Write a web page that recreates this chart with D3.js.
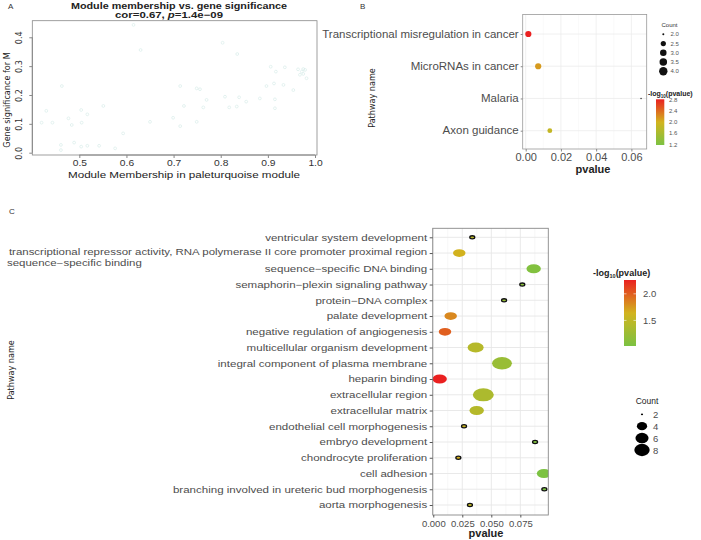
<!DOCTYPE html>
<html><head><meta charset="utf-8">
<script src="https://cdn.jsdelivr.net/npm/d3@7"></script>
<style>
html,body{margin:0;padding:0;background:#fff;}
text{font-family:"Liberation Sans",Arial,Helvetica,sans-serif;}
.narrow{font-family:"Liberation Sans Narrow","Arial Narrow","DejaVu Sans Condensed",sans-serif;font-stretch:condensed;}
</style></head>
<body>
<svg id="chart" width="701" height="540"></svg>
<script>
// ---------- Panel A data ----------
const mmValues = [0.615,0.630,0.804,0.835,0.463,0.430,0.420,0.443,0.477,0.484,0.504,0.505,0.517,0.551,
  0.461,0.461,0.489,0.504,0.517,0.542,0.576,0.593,0.650,0.714,0.722,0.699,0.714,0.749,0.749,0.756,
  0.763,0.770,0.809,0.818,0.834,0.839,0.854,0.883,0.897,0.906,0.913,0.917,0.915,0.915,0.936,0.933,
  0.954,0.964,0.972,0.975,0.979,0.982,0.968,0.975];
const gsValues = [0.443,0.356,0.381,0.342,0.231,0.145,0.104,0.104,0.119,0.096,0.148,0.104,0.133,0.162,
  0.027,0.009,0.035,0.021,0.024,0.024,0.015,0.067,0.107,0.231,0.162,0.121,0.092,0.107,0.223,0.220,
  0.157,0.183,0.194,0.157,0.160,0.192,0.177,0.188,0.231,0.298,0.240,0.281,0.185,0.154,0.296,0.235,
  0.217,0.289,0.281,0.273,0.287,0.258,0.270,0.290];
const aXTicks = [0.5,0.6,0.7,0.8,0.9,1.0];
const aYTicks = [0.0,0.1,0.2,0.3,0.4];

// ---------- Panel B data ----------
const bPathways = ["Transcriptional misregulation in cancer","MicroRNAs in cancer","Malaria","Axon guidance"];
const bPvalues = [0.0015,0.0071,0.0655,0.0137];
const bCounts = [4,4,2,3];
const bXTicks = [0,0.02,0.04,0.06];
const bColorTicks = [2.8,2.4,2.0,1.6,1.2];
const bCountTicks = [2.0,2.5,3.0,3.5,4.0];

// ---------- Panel C data ----------
const cPathways = ["ventricular system development",
 "transcriptional repressor activity, RNA polymerase II core promoter proximal region",
 "sequence\u2212specific DNA binding","semaphorin\u2212plexin signaling pathway","protein\u2212DNA complex",
 "palate development","negative regulation of angiogenesis","multicellular organism development",
 "integral component of plasma membrane","heparin binding","extracellular region","extracellular matrix",
 "endothelial cell morphogenesis","embryo development","chondrocyte proliferation","cell adhesion",
 "branching involved in ureteric bud morphogenesis","aorta morphogenesis"];
const cPvalues = [0.0336,0.0224,0.0865,0.0767,0.0610,0.0150,0.0101,0.0365,0.0592,0.0055,0.0431,0.0374,
  0.0265,0.0877,0.0216,0.0954,0.0957,0.0316];
const cCounts = [2,4,5,2,2,4,4,6,9,5,10,5,2,2,2,5,2,2];
const cXTicks = [0,0.025,0.05,0.075];
const cColorTicks = [2.0,1.5];
const cCountTicks = [2,4,6,8];

const svg = d3.select("#chart");
const fmt2 = d3.format(".2f"), fmt3 = d3.format(".3f"), fmt1 = d3.format(".1f");
const nl = p => -Math.log10(p);
function stretch(sel, k){
  sel.each(function(){
    const l = this.getComputedTextLength();
    d3.select(this).attr("textLength", l*k).attr("lengthAdjust","spacingAndGlyphs");
  });
}
function fitWidth(sel, w){
  sel.attr("textLength", w).attr("lengthAdjust","spacingAndGlyphs");
}

// ===================== Panel A =====================
const ax = d3.scaleLinear().domain([0.4003,1.0042]).range([32.3,317]);
const ay = d3.scaleLinear().domain([-0.008,0.4575]).range([155,20.7]);
const gA = svg.append("g");
gA.append("text").attr("x",8).attr("y",9).attr("font-size",8).attr("fill","#333").text("A");
gA.append("text").attr("x",179).attr("y",8.8).attr("text-anchor","middle").attr("font-size",9).attr("font-weight","bold").attr("fill","#222")
  .text("Module membership vs. gene significance").call(fitWidth,216);
const t2 = gA.append("text").attr("x",169).attr("y",18.3).attr("text-anchor","middle").attr("font-size",9).attr("font-weight","bold").attr("fill","#222");
t2.append("tspan").text("cor=0.67, ");
t2.append("tspan").attr("font-style","italic").text("p");
t2.append("tspan").text("=1.4e\u221209");
t2.call(fitWidth,108);
gA.append("g").selectAll("circle").data(mmValues).join("circle")
  .attr("cx",(d)=>ax(d)).attr("cy",(d,i)=>ay(gsValues[i])).attr("r",1.4)
  .attr("fill","none").attr("stroke","#d9ecea").attr("stroke-width",0.7);
gA.append("rect").attr("x",32.3).attr("y",20.7).attr("width",317-32.3).attr("height",155-20.7)
  .attr("fill","none").attr("stroke","#888").attr("stroke-width",0.8);
const axA = gA.append("g").attr("transform","translate(0,155)")
  .call(d3.axisBottom(ax).tickValues(aXTicks).tickFormat(fmt1).tickSize(3).tickPadding(1.5));
axA.select(".domain").attr("stroke","#888").attr("d","M"+ax(0.5)+",0H"+ax(1.0));
axA.selectAll(".tick line").attr("stroke","#888");
axA.selectAll(".tick text").attr("font-size",9.5).attr("fill","#333").attr("font-family","Liberation Sans, Arial, sans-serif").call(stretch,1.08);
const ayA = gA.append("g").attr("transform","translate(32.3,0)")
  .call(d3.axisLeft(ay).tickValues(aYTicks).tickFormat(fmt1).tickSize(3));
ayA.select(".domain").attr("stroke","#888").attr("d","M0,"+ay(0)+"V"+ay(0.4));
ayA.selectAll(".tick line").attr("stroke","#888");
ayA.selectAll(".tick text").attr("font-size",9).attr("fill","#333").attr("class","narrow")
  .attr("text-anchor","middle").attr("x",0).attr("dy",0)
  .attr("transform","translate(-10.6,0) rotate(-90)");
gA.append("text").attr("x",184).attr("y",177.8).attr("text-anchor","middle").attr("font-size",9.5).attr("fill","#222")
  .text("Module Membership in paleturquoise module").call(fitWidth,232);
gA.append("text").attr("class","narrow").attr("transform","translate(10,100) rotate(-90)").attr("text-anchor","middle")
  .attr("font-size",9).attr("fill","#222").text("Gene significance for M");

// ===================== Colour helpers =====================
function makeColor(vals){
  const lo = d3.min(vals), hi = d3.max(vals);
  return d3.scaleLinear().domain([lo,(lo+hi)/2,hi]).range(["#7cc242","#d2b41e","#ea2020"]).interpolate(d3.interpolateRgb);
}
function gradient(id, color){
  const dom = color.domain();
  const lg = svg.append("defs").append("linearGradient").attr("id",id).attr("x1",0).attr("y1",1).attr("x2",0).attr("y2",0);
  d3.range(0,1.0001,0.1).forEach(t=>{
    const v = dom[0] + t*(dom[2]-dom[0]);
    lg.append("stop").attr("offset",t).attr("stop-color",color(v));
  });
}

// ===================== Panel B =====================
const bL = 522.7, bR = 646.7, bT = 14.5, bB = 149;
const bx = d3.scaleLinear().domain([-0.0017,0.0687]).range([bL,bR]);
const by = d3.scalePoint().domain(bPathways).range([34,130.7]);
const bLog = bPvalues.map(nl);
const bColor = makeColor(bLog);
const bSizeNorm = d3.scaleLinear().domain([d3.min(bCounts),d3.max(bCounts)]).range([0,1]);
const bDiam = c => 1.5 + (6.2-1.5)*Math.sqrt(bSizeNorm(c));
function bFill(i){ return bCounts[i]===d3.min(bCounts) ? "#333" : bColor(bLog[i]); }
const gB = svg.append("g");
gB.append("text").attr("x",360).attr("y",9).attr("font-size",8).attr("fill","#333").text("B");
gB.append("rect").attr("x",bL).attr("y",bT).attr("width",bR-bL).attr("height",bB-bT).attr("fill","#fff");
const bGridMinor = [0.01,0.03,0.05];
gB.append("g").selectAll("line").data(bGridMinor).join("line").attr("x1",d=>bx(d)).attr("x2",d=>bx(d)).attr("y1",bT).attr("y2",bB).attr("stroke","#f4f4f4").attr("stroke-width",0.5);
gB.append("g").selectAll("line").data(bXTicks).join("line").attr("x1",d=>bx(d)).attr("x2",d=>bx(d)).attr("y1",bT).attr("y2",bB).attr("stroke","#ececec").attr("stroke-width",0.8);
gB.append("g").selectAll("line").data(bPathways).join("line").attr("x1",bL).attr("x2",bR).attr("y1",d=>by(d)).attr("y2",d=>by(d)).attr("stroke","#ececec").attr("stroke-width",0.8);
gB.append("g").selectAll("circle").data(bPathways).join("circle")
  .attr("cx",(d,i)=>bx(bPvalues[i])).attr("cy",d=>by(d)).attr("r",(d,i)=>bDiam(bCounts[i])/2)
  .attr("fill",(d,i)=>bFill(i));
gB.append("rect").attr("x",bL).attr("y",bT).attr("width",bR-bL).attr("height",bB-bT).attr("fill","none").attr("stroke","#999").attr("stroke-width",0.8);
const bxa = gB.append("g").attr("transform","translate(0,"+bB+")").call(d3.axisBottom(bx).tickValues(bXTicks).tickFormat(fmt2).tickSize(2.5).tickPadding(2));
bxa.select(".domain").remove();
bxa.selectAll(".tick line").attr("stroke","#888");
bxa.selectAll(".tick text").attr("font-size",10).attr("fill","#4d4d4d").attr("font-family","Liberation Sans, Arial, sans-serif").call(stretch,1.1);
const bya = gB.append("g").attr("transform","translate("+bL+",0)").call(d3.axisLeft(by).tickSize(2).tickPadding(2));
bya.select(".domain").remove();
bya.selectAll(".tick line").attr("stroke","#888");
bya.selectAll(".tick text").attr("font-size",10).attr("fill","#4d4d4d").attr("font-family","Liberation Sans, Arial, sans-serif").call(stretch,1.15);
gB.append("text").attr("x",593).attr("y",173).attr("text-anchor","middle").attr("font-size",10).attr("font-weight","bold").attr("fill","#222").text("pvalue").call(stretch,1.1);
gB.append("text").attr("class","narrow").attr("transform","translate(375,98) rotate(-90)").attr("text-anchor","middle").attr("font-size",9).attr("fill","#222").text("Pathway name");
// B legends
gB.append("text").attr("x",669.5).attr("y",27).attr("text-anchor","middle").attr("font-size",6).attr("fill","#333").text("Count");
const bLegY = d3.scalePoint().domain(bCountTicks).range([34.3,71.3]);
gB.append("g").selectAll("circle").data(bCountTicks).join("circle").attr("cx",663.3).attr("cy",d=>bLegY(d)).attr("r",d=>bDiam(d)*1.35/2).attr("fill","#111");
gB.append("g").selectAll("text").data(bCountTicks).join("text").attr("x",670.5).attr("y",d=>bLegY(d)+2).attr("font-size",6).attr("fill","#555").text(d=>fmt1(d));
gradient("gradB", bColor);
const bcy = d3.scaleLinear().domain(d3.extent(bLog)).range([145,99.3]);
const btitle = gB.append("text").attr("x",648).attr("y",96).attr("font-size",7).attr("font-weight","bold").attr("fill","#222");
btitle.append("tspan").text("-log");
btitle.append("tspan").attr("font-size",4.5).attr("dy",1.5).text("10");
btitle.append("tspan").attr("dy",-1.5).text("(pvalue)");
gB.append("rect").attr("x",656).attr("y",bcy.range()[1]).attr("width",8.3).attr("height",bcy.range()[0]-bcy.range()[1]).attr("fill","url(#gradB)");
gB.append("g").selectAll("text").data(bColorTicks).join("text").attr("x",669).attr("y",d=>bcy(d)+2).attr("font-size",6).attr("fill","#555").text(d=>fmt1(d));

// ===================== Panel C =====================
const cL = 432.7, cR = 548.3, cT = 228.3, cB = 515;
const cx = d3.scaleLinear().domain([-0.0005,0.0991]).range([cL,cR]);
const cy = d3.scalePoint().domain(cPathways).range([237.3,505]);
const cLog = cPvalues.map(nl);
const cColor = makeColor(cLog);
const cMin = d3.min(cCounts);
const cNorm = d3.scaleLinear().domain([cMin,d3.max(cCounts)]).range([0,1]);
const cW = c => c===cMin ? 5 : 4 + (21-4)*Math.sqrt(cNorm(c));
const gC = svg.append("g");
gC.append("text").attr("x",9).attr("y",214).attr("font-size",8).attr("fill","#333").text("C");
gC.append("defs").append("clipPath").attr("id","clipC").append("rect").attr("x",cL).attr("y",cT).attr("width",cR-cL).attr("height",cB-cT);
const cMinor = [0.0125,0.0375,0.0625,0.0875];
gC.append("g").selectAll("line").data(cMinor).join("line").attr("x1",d=>cx(d)).attr("x2",d=>cx(d)).attr("y1",cT).attr("y2",cB).attr("stroke","#f2f2f2").attr("stroke-width",0.6);
gC.append("g").selectAll("line").data(cXTicks).join("line").attr("x1",d=>cx(d)).attr("x2",d=>cx(d)).attr("y1",cT).attr("y2",cB).attr("stroke","#e6e6e6").attr("stroke-width",0.9);
gC.append("g").selectAll("line").data(cPathways).join("line").attr("x1",cL).attr("x2",cR).attr("y1",d=>cy(d)).attr("y2",d=>cy(d)).attr("stroke","#e6e6e6").attr("stroke-width",0.9);
gC.append("g").attr("clip-path","url(#clipC)").selectAll("ellipse").data(cPathways).join("ellipse")
  .attr("cx",(d,i)=>cx(cPvalues[i])).attr("cy",d=>cy(d))
  .attr("rx",(d,i)=>cW(cCounts[i])/2).attr("ry",(d,i)=>cW(cCounts[i])/2/1.6)
  .attr("fill",(d,i)=>cColor(cLog[i]))
  .attr("stroke",(d,i)=>cCounts[i]===cMin?"#111":"none").attr("stroke-width",1.3);
gC.append("rect").attr("x",cL).attr("y",cT).attr("width",cR-cL).attr("height",cB-cT).attr("fill","none").attr("stroke","#888").attr("stroke-width",0.9);
const cxa = gC.append("g").attr("transform","translate(0,"+cB+")").call(d3.axisBottom(cx).tickValues(cXTicks).tickFormat(fmt3).tickSize(2.5).tickPadding(3));
cxa.select(".domain").remove();
cxa.selectAll(".tick line").attr("stroke","#555");
cxa.selectAll(".tick text").attr("font-size",9.5).attr("fill","#4d4d4d").attr("font-family","Liberation Sans, Arial, sans-serif");
const cya = gC.append("g").attr("transform","translate("+cL+",0)").call(d3.axisLeft(cy).tickSize(3).tickPadding(2.5));
cya.select(".domain").remove();
cya.selectAll(".tick line").attr("stroke","#555");
cya.selectAll(".tick text").attr("font-size",(d,i)=>i===1?8.2:9).attr("fill","#4d4d4d").attr("font-family","Liberation Sans, Arial, sans-serif")
  .attr("dy",(d,i)=>i===1?"0.2em":"0.32em");
cya.selectAll(".tick text").each(function(d,i){ d3.select(this).call(stretch, i===1?1.4:1.28); });
gC.append("text").attr("x",7).attr("y",266.3).attr("font-size",8.2).attr("fill","#4d4d4d").text("sequence\u2212specific binding").call(stretch,1.4);
gC.append("text").attr("x",486).attr("y",537).attr("text-anchor","middle").attr("font-size",10).attr("font-weight","bold").attr("fill","#222").text("pvalue").call(stretch,1.1);
gC.append("text").attr("class","narrow").attr("transform","translate(14,370) rotate(-90)").attr("text-anchor","middle").attr("font-size",9).attr("fill","#222").text("Pathway name");
// C legends
gradient("gradC", cColor);
const ccy = d3.scaleLinear().domain(d3.extent(cLog)).range([346,280]);
const ctitle = gC.append("text").attr("x",593).attr("y",276).attr("font-size",9).attr("font-weight","bold").attr("fill","#222");
ctitle.append("tspan").text("-log");
ctitle.append("tspan").attr("font-size",5.5).attr("dy",2).text("10");
ctitle.append("tspan").attr("dy",-2).text("(pvalue)");
gC.append("rect").attr("x",624).attr("y",280).attr("width",12).attr("height",66).attr("fill","url(#gradC)");
gC.append("g").selectAll("line").data(cColorTicks).join("line").attr("x1",624).attr("x2",626.5).attr("y1",d=>ccy(d)).attr("y2",d=>ccy(d)).attr("stroke","#fff").attr("stroke-width",0.6);
gC.append("g").selectAll("line").data(cColorTicks).join("line").attr("x1",633.5).attr("x2",636).attr("y1",d=>ccy(d)).attr("y2",d=>ccy(d)).attr("stroke","#fff").attr("stroke-width",0.6);
gC.append("g").selectAll("text").data(cColorTicks).join("text").attr("x",643).attr("y",d=>ccy(d)+3.5).attr("font-size",9.5).attr("fill","#4d4d4d").text(d=>fmt1(d));
gC.append("text").attr("x",647).attr("y",403.5).attr("text-anchor","middle").attr("font-size",8.5).attr("fill","#222").text("Count");
const cLegY = d3.scaleLinear().domain([2,8]).range([414.3,450]);
const cLegW = c => c===cMin ? 2.2 : cW(c)*0.82;
gC.append("g").selectAll("ellipse").data(cCountTicks).join("ellipse").attr("cx",642).attr("cy",d=>cLegY(d))
  .attr("rx",d=>cLegW(d)/2).attr("ry",d=>cLegW(d)/2/1.25).attr("fill","#000");
gC.append("g").selectAll("text").data(cCountTicks).join("text").attr("x",653).attr("y",d=>cLegY(d)+3.5).attr("font-size",9.5).attr("fill","#4d4d4d").text(d=>d);
</script>
</body></html>
